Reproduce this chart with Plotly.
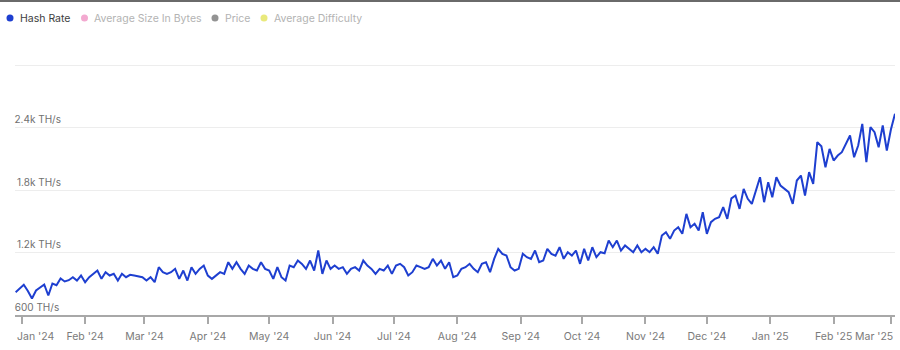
import pandas as pd
import plotly.graph_objects as go

# Network hash rate, one reading every second day (TH/s)
start_date = "2023-12-29"
step_days = 2
hash_rate = [
    819, 854, 890, 830, 758, 835, 867, 893, 787, 902, 886, 950, 922, 934, 963, 931, 979,
    915, 963, 995, 1027, 947, 1011, 979, 995, 931, 995, 963, 986, 979, 972, 963,
    931, 963, 915, 1059, 1011, 995, 1011, 1043, 947, 1027, 931, 1059, 995, 1043, 1075,
    979, 947, 979, 1011, 995, 1107, 1043, 1107, 1043, 995, 1075, 1043, 1027, 1107, 1043,
    1027, 947, 1059, 963, 931, 1075, 1059, 1123, 1091, 1043, 1123, 1027, 1219, 995, 1123,
    1043, 1075, 1043, 1059, 995, 1043, 1059, 1027, 1123, 1075, 1043, 995, 1043, 1027, 1075,
    995, 1075, 1091, 1059, 979, 1011, 1075, 1059, 1043, 1059, 1139, 1075, 1123, 1043, 1107, 963,
    979, 1043, 1059, 1091, 1043, 1011, 1091, 1107, 1011, 1139, 1235, 1187, 1171, 1059, 1027,
    1043, 1187, 1155, 1139, 1219, 1107, 1123, 1235,
    1187, 1170, 1251, 1139, 1203, 1171, 1219, 1091, 1235, 1123, 1251, 1155, 1203, 1193, 1315,
    1251, 1315, 1219, 1267, 1235, 1203, 1267, 1203, 1235, 1203, 1251, 1187, 1363, 1395, 1331,
    1411, 1443, 1379, 1571, 1443, 1475, 1411, 1587, 1379, 1491, 1523, 1539, 1635, 1523,
    1720, 1747, 1619, 1811, 1715, 1667, 1800, 1923, 1683, 1875, 1731, 1923, 1843, 1811, 1779,
    1667, 1891, 1939, 1747, 1971, 1859, 2259, 2219, 2019, 2195, 2083, 2131, 2163, 2243, 2323,
    2115, 2227, 2435, 2067, 2403, 2355, 2211, 2419, 2179, 2380, 2531,
]
dates = pd.date_range(start_date, periods=len(hash_rate), freq=f"{step_days}D")

series_names = ["Hash Rate", "Average Size In Bytes", "Price", "Average Difficulty"]
series_dot_colors = ["#1e3fd0", "#f3a9d0", "#939393", "#e9e97c"]
series_text_colors = ["#3d3d3d", "#b3b3b3", "#b3b3b3", "#b3b3b3"]
line_color = "#1e3fd0"

x_tick_dates = pd.date_range("2024-01-01", "2025-03-01", freq="MS")
x_tick_labels = [
    "Jan '24", "Feb '24", "Mar '24", "Apr '24", "May '24", "Jun '24", "Jul '24",
    "Aug '24", "Sep '24", "Oct '24", "Nov '24", "Dec '24", "Jan '25", "Feb '25", "Mar '25",
]

y_tick_vals = [600, 1200, 1800, 2400, 3000]
y_tick_text = ["600 TH/s", "1.2k TH/s", "1.8k TH/s", "2.4k TH/s", ""]

FONT = "Inter, Roboto, sans-serif"
X_LABEL_FONT = dict(family=FONT, size=10.5, color="#7a7a7a")

# the outermost month labels are pinned to the plot edges, the rest centred on ticks
x_tick_text = [""] + list(x_tick_labels[1:-1]) + [""]

# value labels sit over the plot, all starting at its left edge
y_label_text = [t + "\u2009" if t.startswith("600") else t for t in y_tick_text]

plot_top, plot_bottom = 55, 35
plot_h = 350 - plot_top - plot_bottom
left, right = 15, 5
plot_w = 900 - left - right


def px_x(px):
    return (px - left) / plot_w


def px_y(py):
    return 1 + (plot_top - py) / plot_h


fig = go.Figure()

fig.add_trace(go.Scatter(
    x=dates, y=hash_rate, mode="lines", name=series_names[0],
    showlegend=False,
    line=dict(color=line_color, width=2),
    hovertemplate="%{x|%b %d, %Y}<br>%{y:.0f} TH/s<extra></extra>",
))

# Series key across the top: a dot and a name per series
key_dot_px = [10, 84.5, 215, 264]
key_y_px = 18
shapes = []
annotations = []
for name, dot_c, txt_c, dx in zip(series_names, series_dot_colors, series_text_colors, key_dot_px):
    shapes.append(dict(
        type="circle", xref="paper", yref="paper",
        xsizemode="pixel", ysizemode="pixel",
        xanchor=px_x(dx), yanchor=px_y(key_y_px),
        x0=-3.5, x1=3.5, y0=-3.5, y1=3.5,
        fillcolor=dot_c, line=dict(width=0),
    ))
    annotations.append(dict(
        text=name, xref="paper", yref="paper",
        x=px_x(dx + 7.5), y=px_y(key_y_px),
        xanchor="left", yanchor="middle", showarrow=False,
        font=dict(family=FONT, size=10.5, color=txt_c),
    ))

# first and last month labels, aligned to the plot's left and right edges
for text, xp, anchor in [(x_tick_labels[0], 0, "left"), (x_tick_labels[-1], 1, "right")]:
    annotations.append(dict(
        text=text, xref="paper", yref="paper", x=xp, y=px_y(336),
        xanchor=anchor, yanchor="middle", showarrow=False,
        xshift=0, font=X_LABEL_FONT,
    ))

# thin frame line along the very top
shapes.append(dict(
    type="line", xref="paper", yref="paper",
    x0=px_x(0), x1=px_x(900), y0=px_y(1), y1=px_y(1),
    line=dict(color="#6a6a6a", width=2),
))

fig.update_layout(
    width=900, height=350, autosize=False,
    margin=dict(l=left, r=right, t=plot_top, b=plot_bottom, autoexpand=False),
    paper_bgcolor="white", plot_bgcolor="white",
    font=dict(family=FONT, size=11, color="#333"),
    showlegend=False,
    xaxis=dict(
        type="date", automargin=False,
        range=["2023-12-28 17:00", "2025-03-03 00:00"],
        tickvals=x_tick_dates, ticktext=x_tick_text,
        ticklabeloverflow="allow", ticklabelstandoff=4,
        ticks="outside", ticklen=7, tickwidth=1.5, tickcolor="#a8a8a8",
        showline=True, linecolor="#a8a8a8", linewidth=1.5,
        showgrid=False, zeroline=False,
        tickfont=X_LABEL_FONT,
    ),
    yaxis=dict(
        automargin=False,
        range=[600, 600 + plot_h * 600 / 62.5],
        tickvals=y_tick_vals, ticktext=y_label_text,
        ticklabelposition="outside", ticklabelshift=-8, ticklabelstandoff=-47,
        ticklabeloverflow="allow",
        ticks="", showline=False, zeroline=False,
        showgrid=True, gridcolor="#ededed", gridwidth=1,
        tickfont=dict(family=FONT, size=10, color="#707070"),
    ),
    shapes=shapes,
    annotations=annotations,
)

fig.write_html("out.html")
